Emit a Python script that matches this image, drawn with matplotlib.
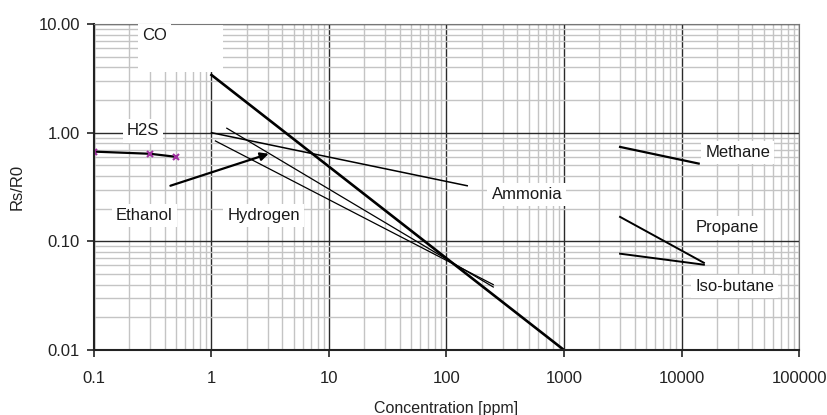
import matplotlib
matplotlib.use('Agg')
import matplotlib.pyplot as plt
from matplotlib.patches import Rectangle

plt.rcParams['font.family'] = ['Liberation Sans', 'DejaVu Sans']

# sensitivity curves (concentration in ppm, Rs/R0)
co_x = [1, 1000]
co_y = [3.4, 0.01]
h2s_x = [0.1, 0.3, 0.5]
h2s_y = [0.67, 0.64, 0.60]
ammonia_x = [1, 150]
ammonia_y = [1.0, 0.325]
hydrogen_x = [1.35, 250]
hydrogen_y = [1.1, 0.038]
ethanol_x = [1.08, 250]
ethanol_y = [0.84, 0.040]
methane_x = [3000, 14000]
methane_y = [0.74, 0.52]
propane_x = [3000, 15500]
propane_y = [0.168, 0.0635]
isobutane_x = [3000, 15500]
isobutane_y = [0.077, 0.061]

x_ticks = [0.1, 1, 10, 100, 1000, 10000, 100000]
x_ticklabels = ['0.1', '1', '10', '100', '1000', '10000', '100000']
y_ticks = [0.01, 0.1, 1, 10]
y_ticklabels = ['0.01', '0.10', '1.00', '10.00']

# label text and where it sits (data coords)
labels = ['CO', 'H2S', 'Ethanol', 'Hydrogen', 'Ammonia', 'Methane', 'Propane', 'Iso-butane']
label_x = [0.326, 0.262, 0.268, 2.78, 483, 30100, 24700, 28400]
label_y = [7.82, 1.04, 0.172, 0.172, 0.269, 0.654, 0.133, 0.0382]

fig = plt.figure(figsize=(8.28, 4.15), dpi=100, facecolor='white')
ax = fig.add_axes([0.1135, 0.1566, 0.8515, 0.7854])
ax.set_xscale('log')
ax.set_yscale('log')
ax.set_xlim(0.1, 100000)
ax.set_ylim(0.01, 10)

ax.grid(True, which='minor', color='#c4c4c4', linewidth=1.0)
ax.grid(True, which='major', color='#2a2a2a', linewidth=1.0)
ax.set_axisbelow(True)

ax.set_xticks(x_ticks)
ax.set_xticklabels(x_ticklabels)
ax.set_yticks(y_ticks)
ax.set_yticklabels(y_ticklabels)
ax.tick_params(which='minor', length=0)
ax.tick_params(which='major', length=5, width=1.2, color='#222222', labelsize=12, labelcolor='#222222')
ax.tick_params(axis='x', pad=10)
ax.tick_params(axis='y', pad=5)

for side in ['top', 'right']:
    ax.spines[side].set_color('#777777')
for side in ['left', 'bottom']:
    ax.spines[side].set_color('#222222')
    ax.spines[side].set_linewidth(1.5)

ax.plot(co_x, co_y, color='black', linewidth=1.9)
ax.plot(h2s_x, h2s_y, color='black', linewidth=1.6)
ax.plot(h2s_x, h2s_y, linestyle='none', marker='x', color='#a030a0', markersize=4, markeredgewidth=1.5)
ax.plot(ammonia_x, ammonia_y, color='black', linewidth=1.1)
ax.plot(hydrogen_x, hydrogen_y, color='black', linewidth=0.9)
ax.plot(ethanol_x, ethanol_y, color='black', linewidth=0.9)
ax.plot(methane_x, methane_y, color='black', linewidth=1.6)
ax.plot(propane_x, propane_y, color='black', linewidth=1.4)
ax.plot(isobutane_x, isobutane_y, color='black', linewidth=1.4)

# arrow from the Ethanol label area to the hydrogen curve
ax.annotate('', xy=(3.07, 0.64), xytext=(0.447, 0.325),
            arrowprops=dict(arrowstyle='-|>', color='black', lw=1.6, mutation_scale=12, shrinkA=0, shrinkB=0))

# white box behind CO label
ax.add_patch(Rectangle((0.0624, 0.853), 0.12, 0.15, transform=ax.transAxes,
                       facecolor='white', edgecolor='none', zorder=2, clip_on=False))

for txt, lx, ly in zip(labels, label_x, label_y):
    ax.text(lx, ly, txt, ha='center', va='center', fontsize=12, color='#1a1a1a', zorder=3,
            bbox=dict(facecolor='white', edgecolor='none', pad=3))

ax.set_xlabel('Concentration [ppm]', fontsize=11.5, color='#222222')
ax.xaxis.set_label_coords(0.5, -0.155)
ax.set_ylabel('Rs/R0', fontsize=12, labelpad=10, color='#222222')

fig.savefig('out.png', dpi=100, facecolor='white')
